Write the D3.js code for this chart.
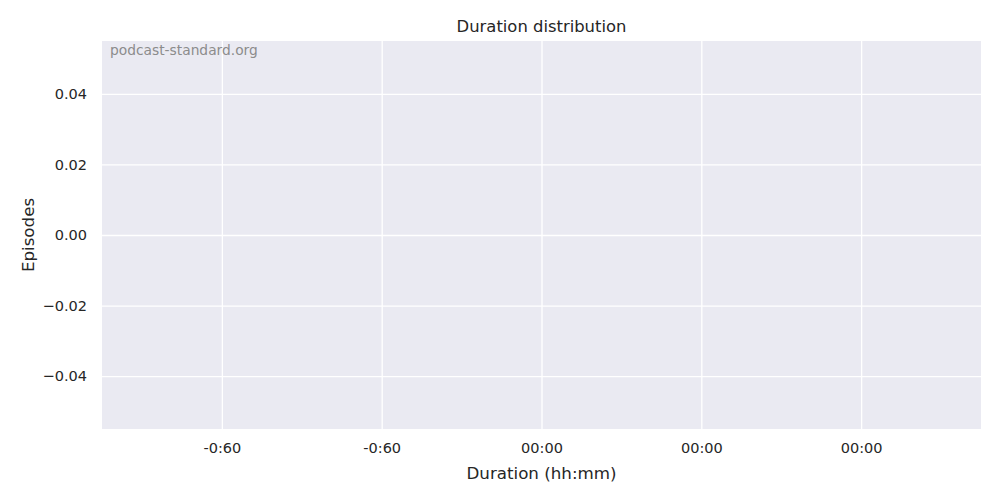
<!DOCTYPE html>
<html><head><meta charset="utf-8">
<script src="https://cdn.jsdelivr.net/npm/d3@7"></script>
<style>body{margin:0;background:#fff}svg{display:block}text{font-family:"DejaVu Sans",sans-serif}</style>
</head><body>
<svg id="c" width="1000" height="500"></svg>
<script>
// Data (the reference histogram is empty)
const durations = [];
const episodeCounts = [];
const xDomain = [-0.055, 0.055];
const yDomain = [-0.055, 0.055];
const xTickValues = [-0.04, -0.02, 0.0, 0.02, 0.04];
const xTickLabels = ["-0:60", "-0:60", "00:00", "00:00", "00:00"];
const yTickValues = [-0.04, -0.02, 0.0, 0.02, 0.04];
const yTickLabels = ["\u22120.04", "\u22120.02", "0.00", "0.02", "0.04"];

const svg = d3.select("#c");
const m = {l: 102, t: 41, r: 19, b: 71};
const W = 1000 - m.l - m.r, H = 500 - m.t - m.b;
const x = d3.scaleLinear().domain(xDomain).range([0, W]);
const y = d3.scaleLinear().domain(yDomain).range([H, 0]);
const g = svg.append("g").attr("transform", `translate(${m.l},${m.t})`);
g.append("rect").attr("width", W).attr("height", H).attr("fill", "#eaeaf2");

const xa = g.append("g").attr("transform", `translate(0,${H})`)
  .call(d3.axisBottom(x).tickValues(xTickValues).tickSize(-H).tickPadding(14)
    .tickFormat((d, i) => xTickLabels[i]));
const ya = g.append("g")
  .call(d3.axisLeft(y).tickValues(yTickValues).tickSize(-W).tickPadding(15)
    .tickFormat((d, i) => yTickLabels[i]));
[xa, ya].forEach(a => {
  a.select(".domain").remove();
  a.selectAll("line").attr("stroke", "#fff").attr("stroke-width", 1.3);
  a.selectAll("text").attr("fill", "#262626").style("font-size", "14.5px");
});

// bars (none)
g.selectAll(".bar").data(durations).enter().append("rect").attr("class", "bar")
  .attr("x", d => x(d)).attr("y", (d, i) => y(episodeCounts[i]))
  .attr("width", 1).attr("height", (d, i) => H - y(episodeCounts[i]))
  .attr("fill", "#4c72b0");

g.append("text").attr("x", 8).attr("y", 14).attr("fill", "#8c8c8c")
  .style("font-size", "13.8px").text("podcast-standard.org");

svg.append("text").attr("x", m.l + W / 2).attr("y", 32).attr("text-anchor", "middle")
  .attr("fill", "#262626").style("font-size", "16.4px").text("Duration distribution");
svg.append("text").attr("x", m.l + W / 2).attr("y", 479).attr("text-anchor", "middle")
  .attr("fill", "#262626").style("font-size", "16.7px").text("Duration (hh:mm)");
svg.append("text").attr("transform", `translate(34,${m.t + H / 2}) rotate(-90)`)
  .attr("text-anchor", "middle").attr("fill", "#262626").style("font-size", "16.7px").text("Episodes");
</script>
</body></html>
